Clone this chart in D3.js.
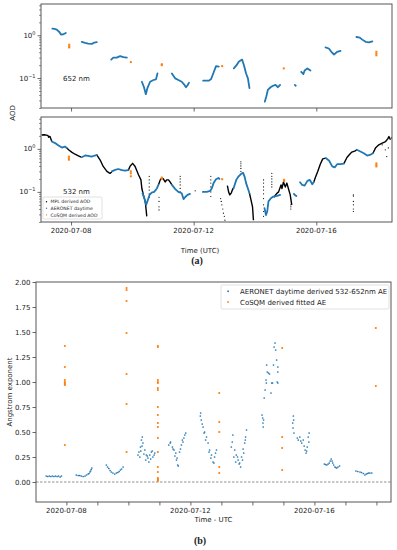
<!DOCTYPE html>
<html><head><meta charset="utf-8">
<script src="https://cdn.jsdelivr.net/npm/d3@7"></script>
<style>body{margin:0;background:#fff}svg{display:block}text{font-family:"DejaVu Sans",sans-serif;fill:#222}</style>
</head><body><svg id="c" width="397" height="550"></svg>
<script>
// ---- data (day of July 2020, decimal) ----
const dateTickDays = [8, 12, 16];
const dateTickLabels = ["2020-07-08", "2020-07-12", "2020-07-16"];
const aeTicks = [0, 0.25, 0.5, 0.75, 1.0, 1.25, 1.5, 1.75, 2.0];

const aod652Aeronet = [
 [[7.39,1.43],[7.46,1.40],[7.53,1.36],[7.58,1.26],[7.62,1.19],[7.67,1.04],[7.75,1.05],[7.83,1.13]],
 [[8.35,0.70],[8.46,0.66],[8.56,0.64],[8.68,0.63],[8.76,0.675],[8.84,0.69]],
 [[9.31,0.27],[9.38,0.30],[9.49,0.30],[9.60,0.325],[9.71,0.31],[9.82,0.30]],
 [[10.31,0.082],[10.38,0.061],[10.44,0.042],[10.49,0.058],[10.58,0.082],[10.69,0.090],[10.77,0.093],[10.82,0.128]],
 [[11.29,0.128],[11.40,0.098],[11.50,0.090],[11.61,0.082],[11.70,0.069],[11.75,0.061],[11.80,0.068],[11.85,0.078]],
 [[12.31,0.087],[12.50,0.087],[12.57,0.095],[12.66,0.140],[12.73,0.19],[12.82,0.185]],
 [[13.31,0.168],[13.40,0.20],[13.47,0.24],[13.58,0.27],[13.64,0.20],[13.71,0.128],[13.77,0.098],[13.82,0.058]],
 [[14.32,0.028],[14.37,0.037],[14.42,0.053],[14.51,0.061],[14.59,0.066],[14.67,0.069],[14.75,0.061],[14.82,0.069]],
 [[15.30,0.069],[15.33,0.066]],
 [[15.51,0.14],[15.58,0.124],[15.62,0.15],[15.71,0.168],[15.81,0.15]],
 [[16.30,0.52],[16.41,0.49],[16.49,0.41],[16.58,0.355],[16.68,0.41],[16.79,0.43]],
 [[17.31,0.91],[17.42,0.88],[17.50,0.79],[17.61,0.70],[17.72,0.68],[17.83,0.72]]
];
const aod652Cosqm = [[7.94,0.60],[7.94,0.55],[7.94,0.52],[9.95,0.236],[10.96,0.20],[10.96,0.21],[12.93,0.19],[14.94,0.168],[17.96,0.41],[17.96,0.37],[17.96,0.34]];

const aod532Mpl = [
 [[7.04,2.10],[7.12,2.12],[7.20,2.08],[7.25,2.02],[7.27,1.85],[7.29,1.92],[7.31,1.95],[7.37,1.50]],
 [[7.86,1.05],[7.94,0.93],[8.02,0.84],[8.13,0.75],[8.24,0.69],[8.33,0.64]],
 [[8.84,0.72],[8.95,0.55],[9.05,0.39],[9.17,0.30],[9.27,0.27],[9.33,0.29]],
 [[9.87,0.32],[9.93,0.40],[10.01,0.46],[10.09,0.39],[10.20,0.25],[10.28,0.19],[10.31,0.12],[10.36,0.085],[10.42,0.06],[10.45,0.038],[10.47,0.027]],
 [[10.85,0.145],[10.91,0.19],[10.96,0.21],[11.01,0.20],[11.07,0.17],[11.12,0.19],[11.18,0.19],[11.23,0.17],[11.29,0.145]],
 [[13.10,0.14],[13.14,0.10],[13.18,0.085],[13.23,0.095],[13.28,0.12],[13.31,0.12]],
 [[13.82,0.093],[13.87,0.065],[13.92,0.045],[13.95,0.022]],
 [[14.62,0.075],[14.70,0.09],[14.77,0.10],[14.85,0.145],[14.88,0.12],[14.93,0.17],[14.99,0.13],[15.04,0.16],[15.09,0.12],[15.15,0.085],[15.20,0.05]],
 [[15.92,0.17],[15.97,0.215],[16.05,0.30],[16.13,0.44],[16.21,0.585],[16.31,0.61]],
 [[16.90,0.455],[17.00,0.63],[17.09,0.75],[17.16,0.84],[17.27,0.90],[17.32,0.95]],
 [[17.85,0.79],[17.93,1.04],[18.04,1.24],[18.15,1.36],[18.26,1.48],[18.33,1.70],[18.37,1.93],[18.42,1.62]]
];
const aod532MplDots = [
 [10.55,0.23],[10.55,0.19],[10.55,0.16],[10.55,0.13],[10.55,0.11],[10.55,0.09],[10.55,0.075],
 [10.87,0.075],[10.87,0.06],[10.87,0.045],[10.87,0.038],
 [11.56,0.23],[11.56,0.20],[11.56,0.17],[11.56,0.145],[11.56,0.12],[11.56,0.10],
 [12.05,0.106],
 [12.56,0.23],[12.56,0.19],[12.56,0.16],[12.56,0.13],[12.56,0.10],[12.56,0.078],
 [12.88,0.07],[12.90,0.06],[12.92,0.05],[12.95,0.04],[12.97,0.032],[13.00,0.027],[13.02,0.022],
 [13.54,0.50],[13.54,0.45],[13.54,0.40],[13.54,0.35],[13.54,0.30],
 [14.28,0.19],[14.28,0.16],[14.28,0.13],[14.28,0.11],[14.28,0.09],[14.28,0.07],[14.28,0.05],[14.28,0.035],[14.28,0.027],
 [14.55,0.27],[14.55,0.23],[14.55,0.20],[14.55,0.17],[14.55,0.15],[14.55,0.13],
 [15.17,0.05],[15.17,0.045],[15.17,0.04],
 [17.21,0.085],[17.21,0.08],[17.21,0.06],[17.21,0.05],[17.21,0.04],[17.21,0.035],
 [18.15,1.24],[18.25,0.95],[18.35,1.05],[18.30,0.66],[18.45,1.80]
];
const aod532Aeronet = [
 [[7.37,1.48],[7.48,1.36],[7.59,1.19],[7.70,1.07],[7.80,1.13],[7.86,1.05]],
 [[8.35,0.64],[8.46,0.70],[8.56,0.69],[8.67,0.66],[8.78,0.70],[8.84,0.72]],
 [[9.33,0.30],[9.44,0.325],[9.54,0.34],[9.66,0.32],[9.76,0.31],[9.87,0.32]],
 [[10.33,0.093],[10.39,0.071],[10.45,0.050],[10.49,0.06],[10.56,0.085],[10.63,0.096],[10.71,0.10],[10.80,0.12],[10.85,0.145]],
 [[11.29,0.145],[11.40,0.116],[11.50,0.10],[11.61,0.093],[11.67,0.068],[11.72,0.075],[11.80,0.085],[11.88,0.09]],
 [[12.30,0.10],[12.43,0.10],[12.54,0.106],[12.59,0.12],[12.65,0.16],[12.73,0.197],[12.81,0.21],[12.84,0.20]],
 [[13.30,0.12],[13.39,0.19],[13.46,0.227],[13.54,0.26],[13.61,0.28],[13.66,0.227],[13.71,0.16],[13.77,0.12],[13.82,0.093]],
 [[14.31,0.042],[14.36,0.029],[14.40,0.035],[14.44,0.06],[14.52,0.071],[14.60,0.078],[14.72,0.081],[14.82,0.085]],
 [[15.27,0.09],[15.30,0.085],[15.35,0.08]],
 [[15.47,0.168],[15.54,0.145],[15.62,0.14],[15.71,0.18],[15.79,0.19],[15.87,0.15],[15.92,0.17]],
 [[16.31,0.61],[16.42,0.53],[16.52,0.39],[16.60,0.37],[16.68,0.44],[16.79,0.44],[16.90,0.455]],
 [[17.32,0.95],[17.44,0.87],[17.55,0.79],[17.66,0.70],[17.75,0.72],[17.85,0.79]]
];
const aod532Cosqm = [[7.93,0.66],[7.93,0.60],[7.93,0.56],[9.95,0.30],[9.95,0.27],[9.95,0.23],[10.96,0.215],[10.96,0.20],[12.93,0.197],[14.95,0.18],[14.95,0.19],[17.96,0.46],[17.96,0.42],[17.96,0.39]];

const aeAeronet = [
 [7.35,0.06],[7.40,0.055],[7.45,0.06],[7.50,0.055],[7.55,0.06],[7.60,0.055],[7.65,0.06],[7.70,0.055],[7.75,0.06],[7.80,0.05],[7.84,0.06],
 [8.32,0.07],[8.38,0.065],[8.43,0.065],[8.48,0.06],[8.54,0.055],[8.60,0.06],[8.65,0.07],[8.70,0.08],[8.73,0.085],[8.76,0.10],[8.78,0.11],[8.80,0.125],[8.82,0.14],
 [9.29,0.17],[9.33,0.15],[9.37,0.135],[9.41,0.115],[9.45,0.10],[9.50,0.09],[9.56,0.08],[9.61,0.09],[9.66,0.095],[9.70,0.105],[9.74,0.12],[9.78,0.13],[9.83,0.15],
 [10.31,0.27],[10.34,0.30],[10.39,0.35],[10.42,0.42],[10.45,0.45],[10.47,0.39],[10.53,0.32],[10.58,0.27],[10.63,0.24],[10.69,0.27],[10.74,0.30],[10.79,0.25],[10.85,0.29],
 [10.44,0.36],[10.50,0.28],[10.56,0.22],[10.61,0.26],[10.66,0.20],[10.72,0.23],[10.77,0.31],[10.83,0.27],[10.37,0.25],[10.40,0.31],
 [11.30,0.37],[11.35,0.39],[11.42,0.35],[11.47,0.32],[11.53,0.29],[11.57,0.24],[11.61,0.16],[11.65,0.30],[11.71,0.37],[11.76,0.40],[11.82,0.47],[11.85,0.49],
 [11.36,0.40],[11.44,0.33],[11.50,0.26],[11.55,0.22],[11.59,0.17],[11.68,0.33],[11.74,0.42],[11.79,0.44],
 [12.32,0.66],[12.35,0.62],[12.41,0.55],[12.46,0.50],[12.52,0.45],[12.57,0.39],[12.62,0.32],[12.68,0.27],[12.73,0.20],[12.76,0.19],[12.78,0.25],[12.81,0.29],[12.84,0.32],
 [12.33,0.69],[12.38,0.58],[12.44,0.49],[12.49,0.42],[12.60,0.30],[12.66,0.24],
 [13.32,0.35],[13.35,0.40],[13.37,0.47],[13.43,0.32],[13.48,0.27],[13.54,0.22],[13.59,0.19],[13.62,0.15],[13.68,0.22],[13.72,0.29],[13.75,0.39],[13.78,0.45],[13.81,0.52],
 [13.40,0.25],[13.46,0.20],[13.52,0.25],[13.57,0.18],[13.65,0.25],[13.70,0.33],[13.77,0.42],
 [14.31,0.67],[14.33,0.64],[14.34,0.59],[14.35,0.55],[14.36,0.62],[14.38,0.84],[14.41,0.92],[14.44,1.02],[14.45,0.99],[14.46,1.17],[14.48,1.10],[14.52,1.09],[14.55,1.08],
 [14.60,0.89],[14.62,0.99],[14.65,0.99],[14.68,1.17],[14.70,1.35],[14.73,1.39],[14.75,1.32],[14.78,1.22],[14.82,1.15],[14.82,1.10],[14.82,0.99],[14.80,1.00],
 [15.30,0.59],[15.31,0.54],[15.34,0.49],[15.32,0.66],[15.33,0.62],[15.48,0.42],[15.53,0.45],[15.59,0.39],[15.64,0.42],[15.70,0.32],[15.73,0.29],[15.77,0.35],[15.80,0.45],[15.83,0.49],
 [15.45,0.44],[15.56,0.41],[15.67,0.36],[15.75,0.31],[15.82,0.40],
 [16.32,0.18],[16.36,0.175],[16.40,0.17],[16.44,0.18],[16.48,0.19],[16.51,0.21],[16.54,0.23],[16.57,0.21],[16.59,0.19],[16.62,0.17],[16.66,0.15],[16.69,0.145],[16.72,0.14],[16.76,0.15],[16.81,0.16],
 [17.34,0.11],[17.40,0.105],[17.47,0.10],[17.52,0.095],[17.58,0.085],[17.63,0.07],[17.67,0.08],[17.71,0.085],[17.75,0.09],[17.79,0.09],[17.85,0.09]
];
const aeCosqm = [
 [7.95,1.36],[7.95,1.15],[7.95,1.02],[7.95,1.00],[7.95,0.99],[7.95,0.98],[7.95,0.97],[7.95,0.37],
 [9.94,1.94],[9.94,1.92],[9.94,1.81],[9.94,1.49],[9.94,1.08],[9.94,0.78],[9.94,0.30],
 [10.95,1.36],[10.95,1.35],[10.95,1.02],[10.95,1.00],[10.95,0.99],[10.95,0.94],[10.95,0.92],[10.95,0.75],[10.95,0.67],[10.95,0.59],[10.95,0.55],[10.95,0.44],[10.95,0.30],[10.95,0.15],[10.95,0.10],[10.95,0.04],[10.95,0.03],[10.95,0.02],[10.95,0.01],
 [12.93,0.89],[12.93,0.60],[12.93,0.50],[12.93,0.15],[12.93,0.09],
 [14.96,1.34],[14.96,0.45],[14.96,0.34],[14.96,0.12],
 [17.98,1.54],[17.98,0.96]
];

// ---- drawing ----
const BLUE = "#1f77b4", ORANGE = "#ff7f0e";
const svg = d3.select("#c");
const toDate = d => new Date(Date.UTC(2020, 6, 1) + (d - 1) * 864e5);
const xDomain = [toDate(7.02), toDate(18.47)];
const FRAME = "#444";

function frame(x0, x1, y0, y1) {
  svg.append("rect").attr("x", x0).attr("y", y0).attr("width", x1 - x0).attr("height", y1 - y0)
    .attr("fill", "none").attr("stroke", FRAME).attr("stroke-width", 0.9);
}
function clip(id, x0, x1, y0, y1) {
  svg.append("clipPath").attr("id", id).append("rect").attr("x", x0).attr("y", y0).attr("width", x1 - x0).attr("height", y1 - y0);
  return svg.append("g").attr("clip-path", `url(#${id})`);
}

function logPanel(y0, y1, topExp, label, id) {
  const x = d3.scaleUtc().domain(xDomain).range([41, 392]);
  const y = d3.scaleLog().domain([Math.pow(10, -1.70), Math.pow(10, topExp)]).range([y1, y0]);
  // minor ticks
  const minor = [];
  [0.01, 0.1, 1].forEach(b => { for (let k = 2; k <= 9; k++) minor.push(b * k); });
  const mv = minor.filter(v => v >= y.domain()[0] && v <= y.domain()[1]);
  svg.append("g").attr("transform", "translate(41,0)")
    .call(d3.axisLeft(y).tickValues(mv).tickSize(2).tickFormat(""))
    .call(g => { g.select(".domain").remove(); g.selectAll("line").attr("stroke", FRAME).attr("stroke-width", 0.6); });
  const gy = svg.append("g").attr("transform", "translate(41,0)")
    .call(d3.axisLeft(y).tickValues([0.1, 1]).tickSize(3.5).tickFormat(""));
  gy.select(".domain").remove();
  gy.selectAll("line").attr("stroke", FRAME).attr("stroke-width", 0.8);
  [[0.1, "\u22121"], [1, "0"]].forEach(([v, e]) => {
    const t = svg.append("text").attr("x", 35.5).attr("y", y(v) + 2.5).attr("text-anchor", "end").attr("font-size", 7);
    t.append("tspan").text("10");
    t.append("tspan").attr("dy", -3).attr("font-size", 5).text(e);
  });
  const gx = svg.append("g").attr("transform", `translate(0,${y1})`)
    .call(d3.axisBottom(x).tickValues(dateTickDays.map(toDate)).tickSize(3.5).tickFormat(""));
  gx.select(".domain").remove();
  gx.selectAll("line").attr("stroke", FRAME).attr("stroke-width", 0.8);
  svg.append("text").attr("x", 63).attr("y", (y(0.1) + 2.5)).attr("font-size", 7).text(label);
  const g = clip(id, 41, 392, y0, y1);
  return { x, y, g };
}

const line = (x, y) => d3.line().x(d => x(toDate(d[0]))).y(d => y(d[1]));

// Panel a top (652 nm)
{
  const { x, y, g } = logPanel(4, 108, 0.73, "652 nm", "c1");
  g.selectAll(".b").data(aod652Aeronet).join("path").attr("d", line(x, y))
    .attr("fill", "none").attr("stroke", BLUE).attr("stroke-width", 1.8).attr("stroke-linecap", "round").attr("stroke-linejoin", "round");
  g.selectAll(".o").data(aod652Cosqm).join("rect").attr("x", d => x(toDate(d[0])) - 1).attr("y", d => y(d[1]) - 1)
    .attr("width", 2).attr("height", 2).attr("fill", ORANGE);
  frame(41, 392, 4, 108);
}
// Panel a bottom (532 nm)
{
  const { x, y, g } = logPanel(117, 222, 0.74, "532 nm", "c2");
  g.selectAll(".k").data(aod532Mpl).join("path").attr("d", line(x, y))
    .attr("fill", "none").attr("stroke", "#000").attr("stroke-width", 1.4).attr("stroke-linejoin", "round");
  g.selectAll(".kd").data(aod532MplDots).join("circle").attr("cx", d => x(toDate(d[0]))).attr("cy", d => y(d[1]))
    .attr("r", 0.6).attr("fill", "#000");
  g.selectAll(".b").data(aod532Aeronet).join("path").attr("d", line(x, y))
    .attr("fill", "none").attr("stroke", BLUE).attr("stroke-width", 1.8).attr("stroke-linecap", "round").attr("stroke-linejoin", "round");
  g.selectAll(".o").data(aod532Cosqm).join("rect").attr("x", d => x(toDate(d[0])) - 1).attr("y", d => y(d[1]) - 1)
    .attr("width", 2).attr("height", 2).attr("fill", ORANGE);
  frame(41, 392, 117, 222);
  // x labels
  dateTickDays.forEach((d, i) => svg.append("text").attr("x", x(toDate(d))).attr("y", 232.5)
    .attr("text-anchor", "middle").attr("font-size", 7).text(dateTickLabels[i]));
  // legend
  svg.append("rect").attr("x", 43).attr("y", 197).attr("width", 59).attr("height", 22).attr("rx", 1.5)
    .attr("fill", "#fff").attr("stroke", "#ccc").attr("stroke-width", 0.6);
  [["MPL derived AOD", "#000"], ["AERONET daytime", BLUE], ["CoSQM derived AOD", ORANGE]].forEach(([t, c], i) => {
    const yy = 201.7 + i * 6.6;
    svg.append("circle").attr("cx", 46.5).attr("cy", yy).attr("r", 0.7).attr("fill", c);
    svg.append("text").attr("x", 50.5).attr("y", yy + 1.6).attr("font-size", 4.6).text(t);
  });
}
svg.append("text").attr("x", 200).attr("y", 252.5).attr("text-anchor", "middle").attr("font-size", 7).text("Time (UTC)");
svg.append("text").attr("transform", "translate(14.5,113) rotate(-90)").attr("text-anchor", "middle").attr("font-size", 7).text("AOD");
svg.append("text").attr("x", 197).attr("y", 264).attr("text-anchor", "middle").attr("font-size", 10)
  .attr("font-weight", "bold").style("font-family", "'Liberation Serif',serif").text("(a)");

// Panel b
{
  const x = d3.scaleUtc().domain(xDomain).range([36, 391]);
  const y = d3.scaleLinear().domain([-0.2, 2.0]).range([502, 282]);
  const gy = svg.append("g").attr("transform", "translate(36,0)")
    .call(d3.axisLeft(y).tickValues(aeTicks).tickSize(3.5).tickPadding(2).tickFormat(d3.format(".2f")));
  gy.select(".domain").remove();
  gy.selectAll("line").attr("stroke", FRAME).attr("stroke-width", 0.8);
  gy.selectAll("text").attr("font-size", 7).attr("fill", "#222").style("font-family", "'DejaVu Sans',sans-serif");
  const days = d3.range(8, 19);
  const gx = svg.append("g").attr("transform", "translate(0,502)")
    .call(d3.axisBottom(x).tickValues(days.map(toDate)).tickSize(3.5).tickFormat(""));
  gx.select(".domain").remove();
  gx.selectAll("line").attr("stroke", FRAME).attr("stroke-width", 0.8);
  dateTickDays.forEach((d, i) => svg.append("text").attr("x", x(toDate(d))).attr("y", 513)
    .attr("text-anchor", "middle").attr("font-size", 7).text(dateTickLabels[i]));
  const g = clip("c3", 36, 391, 282, 502);
  g.append("line").attr("x1", 36).attr("x2", 391).attr("y1", y(0)).attr("y2", y(0))
    .attr("stroke", "#666").attr("stroke-width", 0.7).attr("stroke-dasharray", "2.5,1.5");
  g.selectAll(".b").data(aeAeronet).join("circle").attr("cx", d => x(toDate(d[0]))).attr("cy", d => y(d[1]))
    .attr("r", 0.85).attr("fill", BLUE);
  g.selectAll(".o").data(aeCosqm).join("rect").attr("x", d => x(toDate(d[0])) - 0.9).attr("y", d => y(d[1]) - 0.9)
    .attr("width", 1.8).attr("height", 1.8).attr("fill", ORANGE);
  frame(36, 391, 282, 502);
  // legend
  svg.append("rect").attr("x", 221).attr("y", 285).attr("width", 168).attr("height", 24).attr("rx", 1.5)
    .attr("fill", "#fff").attr("fill-opacity", 0.8).attr("stroke", "#ccc").attr("stroke-width", 0.6);
  [["AERONET daytime derived 532-652nm AE", BLUE], ["CoSQM derived fitted AE", ORANGE]].forEach(([t, c], i) => {
    const yy = 291.3 + i * 10.7;
    svg.append("rect").attr("x", 227.3).attr("y", yy - 0.8).attr("width", 1.6).attr("height", 1.6).attr("fill", c);
    svg.append("text").attr("x", 240).attr("y", yy + 2.5).attr("font-size", 7).text(t);
  });
}
svg.append("text").attr("x", 213.5).attr("y", 522).attr("text-anchor", "middle").attr("font-size", 7).text("Time - UTC");
svg.append("text").attr("transform", "translate(11.5,392) rotate(-90)").attr("text-anchor", "middle").attr("font-size", 7).text("Angstrom exponent");
svg.append("text").attr("x", 200).attr("y", 544).attr("text-anchor", "middle").attr("font-size", 10)
  .attr("font-weight", "bold").style("font-family", "'Liberation Serif',serif").text("(b)");
</script></body></html>
